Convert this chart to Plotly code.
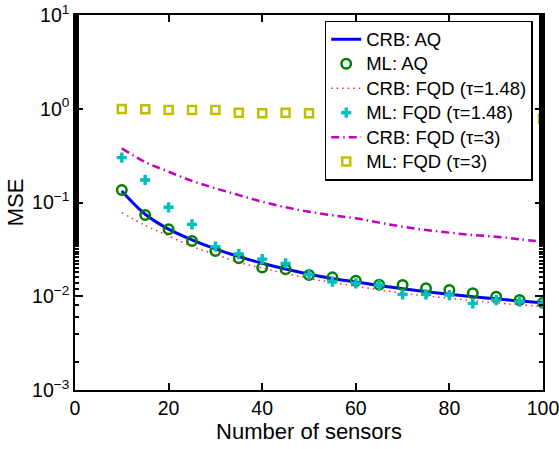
import plotly.graph_objects as go

# Number of sensors
sensors = [10, 15, 20, 25, 30, 35, 40, 45, 50, 55, 60, 65, 70, 75, 80, 85, 90, 95, 100]

# Cramer-Rao bounds
crb_aq = [0.133, 0.075, 0.052, 0.040, 0.032, 0.0265, 0.0225, 0.0195, 0.0172, 0.0155,
          0.0142, 0.0130, 0.0120, 0.0112, 0.0105, 0.0099, 0.0094, 0.0089, 0.0085]
crb_fqd_148 = [0.078, 0.057, 0.044, 0.034, 0.028, 0.023, 0.020, 0.0175, 0.0155, 0.0140,
               0.0128, 0.0117, 0.0108, 0.0101, 0.0095, 0.0090, 0.0085, 0.0081, 0.0078]
crb_fqd_3 = [0.378, 0.27, 0.213, 0.17, 0.1416, 0.12, 0.102, 0.089, 0.0798, 0.073,
             0.0678, 0.061, 0.0552, 0.051, 0.0477, 0.045, 0.0432, 0.0405, 0.0382]

# Maximum-likelihood estimates
ml_aq = [0.136, 0.0736, 0.0518, 0.0388, 0.0304, 0.0254, 0.0202, 0.0194, 0.0169, 0.0159,
         0.01466, 0.01327, 0.0132, 0.01216, 0.01167, 0.01076, 0.0099, 0.00912, 0.00853]
ml_fqd_148 = [0.301, 0.174, 0.0889, 0.0585, 0.0338, 0.0282, 0.0249, 0.0224, 0.017, 0.0143,
              0.01374, 0.0132, 0.01047, 0.01047, 0.0103, 0.0084, 0.0091, 0.00875, 0.0084]
ml_fqd_3 = [0.994, 0.987, 0.970, 0.970, 0.970, 0.908, 0.894, 0.908, 0.894, 0.88,
            0.87, 0.865, 0.85, 0.84, 0.835, 0.82, 0.81, 0.80, 0.778]

FONT = "Arial, Liberation Sans, sans-serif"


def entry(label):
    # legend rows are spaced by the legend font; the label itself is drawn a bit larger
    return f'<span style="font-size:18.5px">{label}</span>'


fig = go.Figure()
fig.add_trace(go.Scatter(x=sensors, y=crb_aq, mode="lines", name=entry("CRB: AQ"),
                         line=dict(color="rgb(0,0,255)", width=3, shape="spline")))
fig.add_trace(go.Scatter(x=sensors, y=ml_aq, mode="markers", name=entry("ML: AQ"),
                         marker=dict(symbol="circle-open", size=9.5, color="rgb(0,128,0)",
                                     line=dict(width=2.5))))
fig.add_trace(go.Scatter(x=sensors, y=crb_fqd_148, mode="lines", name=entry("CRB: FQD (τ=1.48)"),
                         line=dict(color="rgb(255,40,40)", width=1.5, dash="1.5px,4px",
                                   shape="spline")))
fig.add_trace(go.Scatter(x=sensors, y=ml_fqd_148, mode="markers", name=entry("ML: FQD (τ=1.48)"),
                         marker=dict(symbol="cross", size=8.5, color="rgb(0,191,191)",
                                     line=dict(width=0))))
fig.add_trace(go.Scatter(x=sensors, y=crb_fqd_3, mode="lines", name=entry("CRB: FQD (τ=3)"),
                         line=dict(color="rgb(191,0,191)", width=2.5, dash="8px,4px,1.5px,4px",
                                   shape="spline")))
fig.add_trace(go.Scatter(x=sensors, y=ml_fqd_3, mode="markers", name=entry("ML: FQD (τ=3)"),
                         marker=dict(symbol="square-open", size=8, color="rgb(191,191,0)",
                                     line=dict(width=2.5))))

ytick_vals = [1e-3, 1e-2, 1e-1, 1, 10]
ytick_text = ["10<sup>−3</sup>", "10<sup>−2</sup>", "10<sup>−1</sup>", "10<sup>0</sup>", "10<sup>1</sup>"]

fig.update_layout(
    width=559, height=449,
    margin=dict(l=75, r=16, t=15, b=59),
    paper_bgcolor="white", plot_bgcolor="white",
    font=dict(family=FONT, size=19, color="black"),
    showlegend=True,
    legend=dict(x=0.978, y=0.985, xanchor="right", yanchor="top",
                bgcolor="white", bordercolor="black", borderwidth=1.5,
                font=dict(family=FONT, size=16.5), itemwidth=30,
                tracegroupgap=0),
    xaxis=dict(range=[0, 100], tickvals=[0, 20, 40, 60, 80, 100],
               ticks="inside", ticklen=7, tickwidth=1.5, tickcolor="black",
               showline=True, linecolor="black", linewidth=1.5, mirror="ticks",
               showgrid=False, zeroline=False, automargin=False,
               ticklabeloverflow="allow",
               title=dict(text="Number of sensors", font=dict(size=22), standoff=4),
               tickfont=dict(size=19.5)),
    yaxis=dict(type="log", range=[-3, 1], tickvals=ytick_vals, ticktext=ytick_text,
               ticks="inside", ticklen=8, tickwidth=1.5, tickcolor="black",
               minor=dict(ticks="inside", ticklen=4, tickwidth=1.5, tickcolor="black",
                          showgrid=False),
               showline=True, linecolor="black", linewidth=1.5, mirror="ticks",
               showgrid=False, zeroline=False, automargin=False,
               ticklabeloverflow="allow",
               title=dict(text="MSE", font=dict(size=22), standoff=2),
               tickfont=dict(size=19.5)),
)

fig.write_html("out.html")
